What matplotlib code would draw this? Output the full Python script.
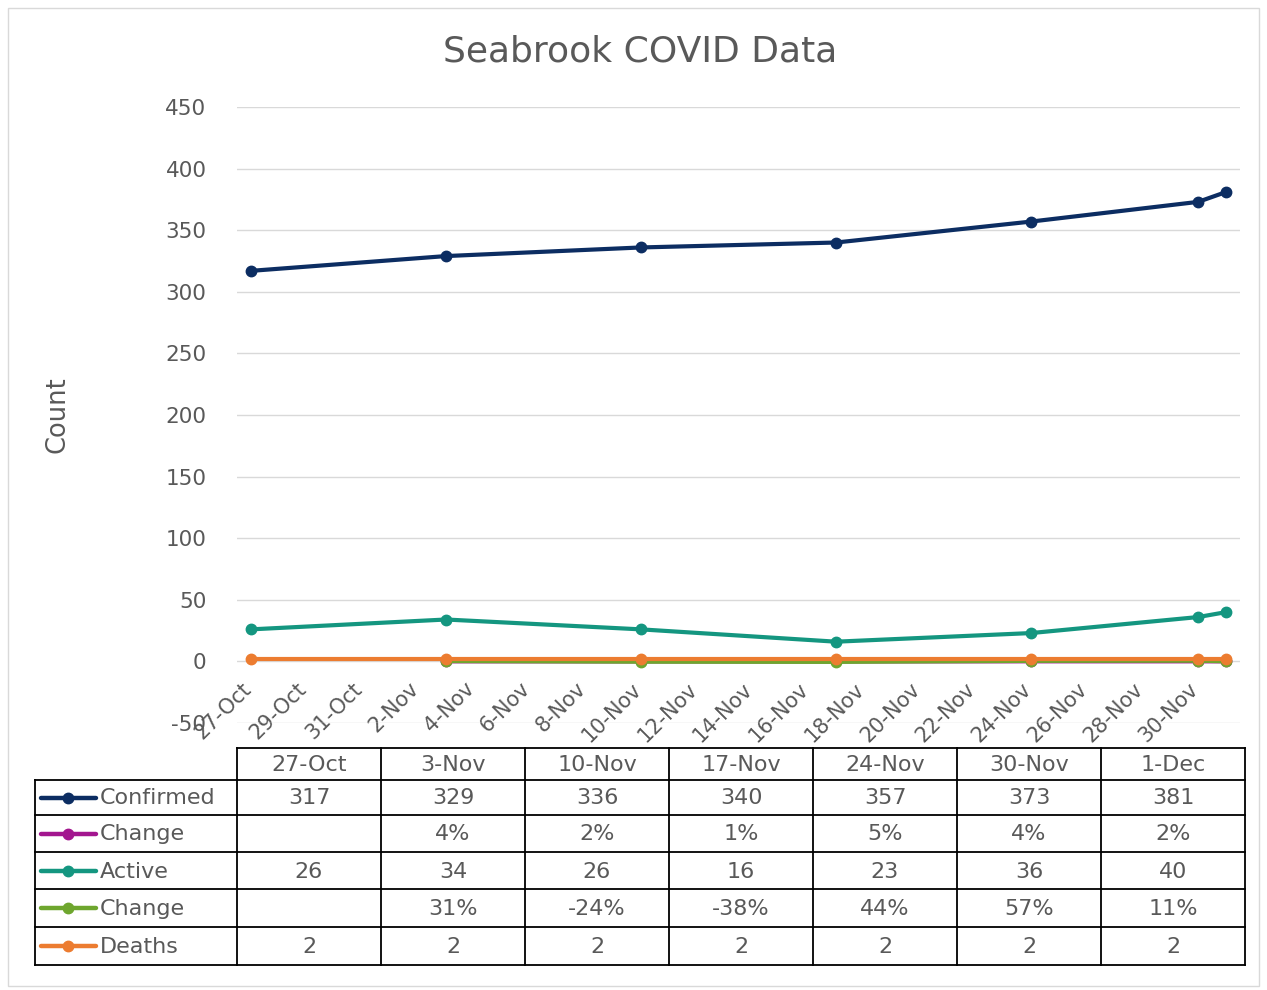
import numpy as np
import pandas as pd
import matplotlib.pyplot as plt
import matplotlib.transforms as mtransforms
from matplotlib.patches import Rectangle

plt.rcParams['font.family'] = ['DejaVu Sans']
plt.rcParams['axes.unicode_minus'] = False

# data
fechas = ["2020-10-27", "2020-11-03", "2020-11-10", "2020-11-17",
          "2020-11-24", "2020-11-30", "2020-12-01"]
etiquetas = ["27-Oct", "3-Nov", "10-Nov", "17-Nov", "24-Nov", "30-Nov", "1-Dec"]
confirmed = [317, 329, 336, 340, 357, 373, 381]
change_conf = [np.nan, 0.04, 0.02, 0.01, 0.05, 0.04, 0.02]
active = [26, 34, 26, 16, 23, 36, 40]
change_act = [np.nan, 0.31, -0.24, -0.38, 0.44, 0.57, 0.11]
deaths = [2, 2, 2, 2, 2, 2, 2]

nombres = ["Confirmed", "Change", "Active", "Change", "Deaths"]
colores = ["#0c2d62", "#a3168f", "#149680", "#6ea62e", "#ec7c30"]
series = [confirmed, change_conf, active, change_act, deaths]
es_pct = [False, True, False, True, False]

gris = "#595959"
W, H = 1267, 990

fig = plt.figure(figsize=(W / 100, H / 100), dpi=100)

# chart area
ax = fig.add_axes([237 / W, 1 - 723 / H, (1240 - 237) / W, (723 - 107) / H])
for sp in ax.spines.values():
    sp.set_visible(False)
ax.spines["bottom"].set_position(("data", 0))

x = pd.to_datetime(fechas)
for s, c in zip(series, colores):
    ax.plot(x, s, "-o", color=c, linewidth=3, markersize=7.5, solid_capstyle="round")

ax.set_ylim(-50, 450)
ax.set_yticks(np.arange(-50, 451, 50))
ax.set_xlim(pd.Timestamp("2020-10-26 12:00"), pd.Timestamp("2020-12-01 12:00"))
ticks = pd.date_range("2020-10-27", "2020-11-30", freq="2D")
ax.set_xticks(ticks)
ax.set_xticklabels([f"{d.day}-{d.strftime('%b')}" for d in ticks],
                   rotation=45, ha="right", va="top", rotation_mode="anchor")
ax.grid(axis="y", color="#d9d9d9", linewidth=1)
ax.grid(axis="x", visible=False)
ax.set_axisbelow(True)
ax.tick_params(axis="both", length=0, colors=gris)
ax.tick_params(axis="y", pad=22, labelsize=15.5)
ax.tick_params(axis="x", pad=11, labelsize=15)

# shift the date labels a little to the left, like the reference
desplaza = mtransforms.ScaledTranslation(-10 / 100, -2 / 100, fig.dpi_scale_trans)
for lab in ax.get_xticklabels():
    lab.set_transform(lab.get_transform() + desplaza)

fig.text(640 / W, 1 - 52 / H, "Seabrook COVID Data", ha="center", va="center",
         fontsize=26, color=gris)
fig.text(57 / W, 1 - 415 / H, "Count", ha="center", va="center",
         rotation=90, fontsize=18.5, color=gris)

# data table
ov = fig.add_axes([0, 0, 1, 1])
ov.set_xlim(0, W)
ov.set_ylim(H, 0)
ov.axis("off")

ov.add_patch(Rectangle((8, 8), 1251, 978, fill=False, edgecolor="#d9d9d9", linewidth=1))

x0, xl, cw = 35, 237, 144
filas = [748, 780, 815, 852, 889, 927, 965]
xr = xl + cw * len(etiquetas)
lk = dict(color="black", linewidth=1.3)
ov.plot([xl, xr], [filas[0], filas[0]], **lk)
for i in range(len(etiquetas) + 1):
    ov.plot([xl + i * cw] * 2, [filas[0], filas[-1]], **lk)
ov.plot([x0, x0], [filas[1], filas[-1]], **lk)
for yy in filas[1:]:
    ov.plot([x0, xr], [yy, yy], **lk)
for i, e in enumerate(etiquetas):
    ov.text(xl + (i + 0.5) * cw, (filas[0] + filas[1]) / 2 + 1, e, ha="center",
            va="center", fontsize=16, color=gris)

for r, (n, c, s, p) in enumerate(zip(nombres, colores, series, es_pct)):
    yc = (filas[r + 1] + filas[r + 2]) / 2
    ov.plot([41, 96], [yc, yc], color=c, linewidth=3.2, solid_capstyle="round")
    ov.plot([68], [yc], "o", color=c, markersize=7.5)
    ov.text(100, yc + 1, n, ha="left", va="center", fontsize=16, color=gris)
    for i, v in enumerate(s):
        if np.isnan(v):
            continue
        txt = f"{round(v * 100)}%" if p else f"{v}"
        ov.text(xl + (i + 0.5) * cw, yc + 1, txt, ha="center", va="center",
                fontsize=16, color=gris)

fig.savefig("out.png", dpi=100)
